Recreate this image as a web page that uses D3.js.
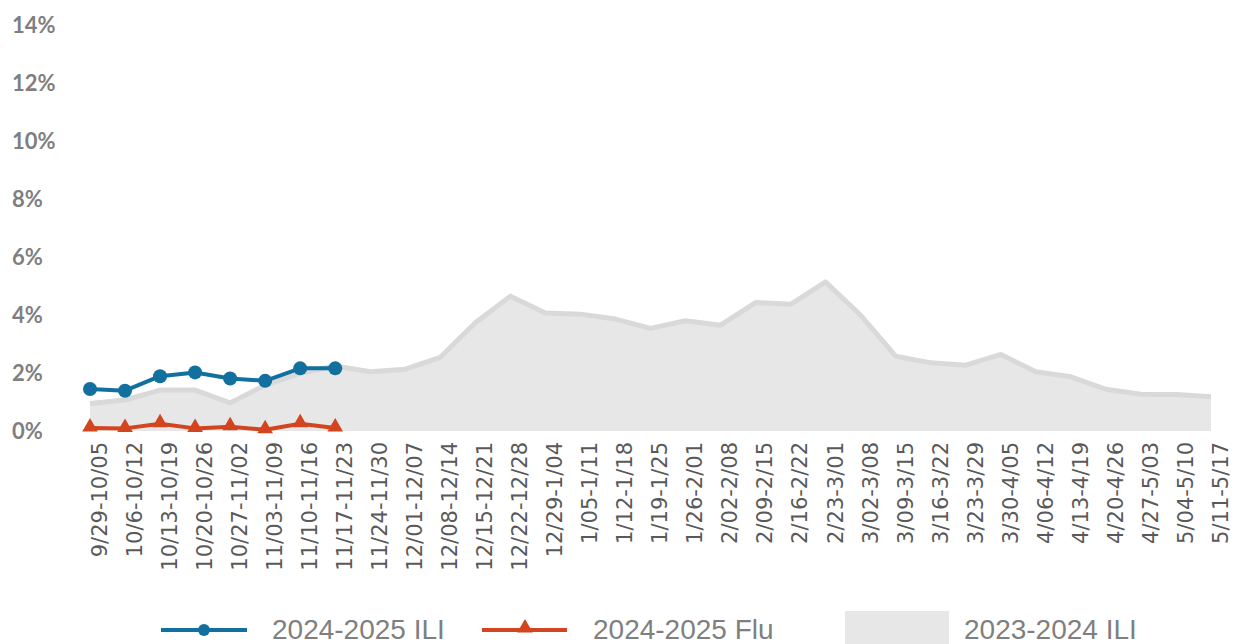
<!DOCTYPE html>
<html>
<head>
<meta charset="utf-8">
<script src="https://cdn.jsdelivr.net/npm/d3@7"></script>
<style>
  html, body { margin: 0; padding: 0; background: #fff; overflow: hidden; }
  svg { display: block; }
</style>
</head>
<body>
<svg id="chart" width="1241" height="644"></svg>
<script>
const categories = [
  "9/29-10/05","10/6-10/12","10/13-10/19","10/20-10/26","10/27-11/02","11/03-11/09",
  "11/10-11/16","11/17-11/23","11/24-11/30","12/01-12/07","12/08-12/14","12/15-12/21",
  "12/22-12/28","12/29-1/04","1/05-1/11","1/12-1/18","1/19-1/25","1/26-2/01",
  "2/02-2/08","2/09-2/15","2/16-2/22","2/23-3/01","3/02-3/08","3/09-3/15",
  "3/16-3/22","3/23-3/29","3/30-4/05","4/06-4/12","4/13-4/19","4/20-4/26",
  "4/27-5/03","5/04-5/10","5/11-5/17"
];
const ili2425 = [1.45, 1.39, 1.89, 2.02, 1.81, 1.73, 2.16, 2.16];
const flu2425 = [0.10, 0.09, 0.25, 0.09, 0.15, 0.04, 0.25, 0.10];
const ili2324 = [0.95, 1.07, 1.41, 1.41, 0.97, 1.58, 1.99, 2.24, 2.04, 2.13, 2.54, 3.73,
  4.65, 4.07, 4.03, 3.86, 3.54, 3.80, 3.65, 4.43, 4.37, 5.14, 3.99, 2.58,
  2.35, 2.27, 2.64, 2.04, 1.87, 1.44, 1.27, 1.26, 1.18];
const yTicks = [0, 2, 4, 6, 8, 10, 12, 14];
const legendLabels = ["2024-2025 ILI", "2024-2025 Flu", "2023-2024 ILI"];

const svg = d3.select("#chart");
const x = d3.scalePoint().domain(categories).range([90, 1211]);
const y = d3.scaleLinear().domain([0, 14]).range([431, 25]);

const BLUE = "#12709f", RED = "#d2451f", AREA = "#e7e7e7", AREA_LINE = "#d9d9d9";

// y axis (labels only)
const yAxis = svg.append("g")
  .call(d3.axisLeft(y).tickValues(yTicks).tickSize(0).tickFormat(d => d + "%"));
yAxis.select(".domain").remove();
yAxis.selectAll("text")
  .attr("x", 12).attr("text-anchor", "start").attr("dy", "0.35em")
  .attr("font-family", "Lato, 'Liberation Sans', sans-serif")
  .attr("font-weight", "bold").attr("font-size", 22).attr("fill", "#7f7f7f");

// area 2023-2024
const area = d3.area().x((d, i) => x(categories[i])).y0(y(0)).y1(d => y(d));
const topLine = d3.line().x((d, i) => x(categories[i])).y(d => y(d));
svg.append("path").datum(ili2324).attr("d", area).attr("fill", AREA);
svg.append("path").datum(ili2324).attr("d", topLine)
  .attr("fill", "none").attr("stroke", AREA_LINE).attr("stroke-width", 5)
  .attr("stroke-linejoin", "round");

// x axis labels
const xAxis = svg.append("g").attr("transform", "translate(0," + y(0) + ")")
  .call(d3.axisBottom(x).tickSize(0));
xAxis.select(".domain").remove();
xAxis.selectAll("text")
  .attr("transform", "translate(9,11) rotate(-90)")
  .attr("x", 0).attr("y", 0).attr("dy", "0.35em")
  .attr("text-anchor", "end")
  .attr("font-family", "'DejaVu Sans', sans-serif")
  .attr("font-size", 21).attr("fill", "#595959");

// Flu line
const lineGen = d3.line().x((d, i) => x(categories[i])).y(d => y(d));
svg.append("path").datum(flu2425).attr("d", lineGen)
  .attr("fill", "none").attr("stroke", RED).attr("stroke-width", 4).attr("stroke-linejoin", "round");
const tri = d3.symbol().type(d3.symbolTriangle).size(105);
svg.selectAll(".tri").data(flu2425).join("path")
  .attr("transform", (d, i) => "translate(" + x(categories[i]) + "," + (y(d) - 1) + ")")
  .attr("d", tri).attr("fill", RED);

// ILI 2024-2025 line
svg.append("path").datum(ili2425).attr("d", lineGen)
  .attr("fill", "none").attr("stroke", BLUE).attr("stroke-width", 4).attr("stroke-linejoin", "round");
svg.selectAll(".dot").data(ili2425).join("circle")
  .attr("cx", (d, i) => x(categories[i])).attr("cy", d => y(d))
  .attr("r", 7).attr("fill", BLUE);

// legend
const lg = svg.append("g");
const ly = 630;
lg.append("line").attr("x1", 161).attr("x2", 247).attr("y1", ly).attr("y2", ly)
  .attr("stroke", BLUE).attr("stroke-width", 4);
lg.append("circle").attr("cx", 204).attr("cy", ly).attr("r", 6).attr("fill", BLUE);
lg.append("line").attr("x1", 482).attr("x2", 567).attr("y1", ly).attr("y2", ly)
  .attr("stroke", RED).attr("stroke-width", 4);
lg.append("path").attr("transform", "translate(525," + (ly - 2) + ")").attr("d", tri).attr("fill", RED);
lg.append("rect").attr("x", 845).attr("y", 611).attr("width", 104).attr("height", 40).attr("fill", AREA);
const lx = [272, 593, 964];
lg.selectAll("text.leg").data(legendLabels).join("text")
  .attr("class", "leg")
  .attr("x", (d, i) => lx[i]).attr("y", 639)
  .attr("font-family", "'Liberation Sans', Arial, sans-serif")
  .attr("font-size", 28).attr("fill", "#7f7f7f")
  .text(d => d);
</script>
</body>
</html>
